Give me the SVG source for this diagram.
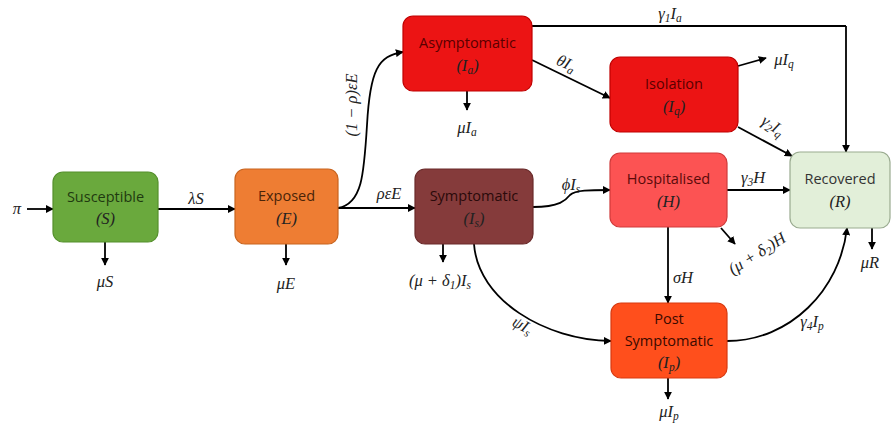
<svg xmlns="http://www.w3.org/2000/svg" width="891" height="426" viewBox="0 0 891 426">
<defs>
<marker id="ah" viewBox="0 0 10 10" refX="9" refY="5" markerWidth="8" markerHeight="8" markerUnits="userSpaceOnUse" orient="auto"><path d="M0,0 L10,5 L0,10 z" fill="#000"/></marker>
<style>
.box{stroke-width:1.2}
.nt{font-family:"Open Sans","Liberation Sans",sans-serif;font-size:14.5px;text-anchor:middle}
.mt{font-family:"Liberation Serif","DejaVu Serif",serif;font-style:italic;font-size:16.5px;text-anchor:middle;fill:#222}
.s{font-size:11.5px}
.ln{fill:none;stroke:#000;stroke-width:1.8;marker-end:url(#ah)}
.lx{fill:none;stroke:#000;stroke-width:1.8}
</style>
</defs>
<rect width="891" height="426" fill="#fff"/>
<g id="connectors">
<path class="ln" d="M27,209 L53,209"/>
<path class="ln" d="M158,209 L235,209"/>
<path class="ln" d="M105,242 L105,265"/>
<path class="ln" d="M286,244 L286,265"/>
<path class="ln" d="M338,208 L415,208"/>
<path class="ln" d="M338,208 C362,204 364,175 367,125 C370,70 378,56 403,52"/>
<path class="ln" d="M467,91 L467,110"/>
<path class="ln" d="M532,60 L610,98"/>
<path class="lx" d="M532,26 L846,26"/>
<path class="ln" d="M846,26 L846,152"/>
<path class="ln" d="M738,66 L766,58"/>
<path class="ln" d="M738,127 L792,156"/>
<path class="ln" d="M727,190 L790,190"/>
<path class="ln" d="M721,228 L735,244"/>
<path class="ln" d="M668,227 L668,303"/>
<path class="ln" d="M872,228 L872,249"/>
<path class="ln" d="M533,207 C560,207 566,200 570,195 C575,190 590,190 610,190"/>
<path class="ln" d="M443,244 L443,262"/>
<path class="ln" d="M474,244 C478,300 545,340 611,341"/>
<path class="ln" d="M727,341 C790,341 840,290 847,228"/>
<path class="ln" d="M668,378 L668,399"/>
</g>
<g id="labels">
<text class="mt" x="17" y="214">π</text>
<text class="mt" x="196" y="204">λS</text>
<text class="mt" x="105" y="287">μS</text>
<text class="mt" x="286" y="289">μE</text>
<text class="mt" x="389" y="199">ρεE</text>
<text class="mt" transform="translate(357,105) rotate(-90)">(1 − ρ)εE</text>
<text class="mt" x="467" y="133">μI<tspan class="s" dy="3">a</tspan></text>
<text class="mt" transform="translate(564,68) rotate(25)">θI<tspan class="s" dy="3">a</tspan></text>
<text class="mt" x="670" y="19">γ<tspan class="s" dy="3">1</tspan><tspan dy="-3">I</tspan><tspan class="s" dy="3">a</tspan></text>
<text class="mt" x="784" y="65">μI<tspan class="s" dy="3">q</tspan></text>
<text class="mt" transform="translate(770,130) rotate(33)">γ<tspan class="s" dy="3">2</tspan><tspan dy="-3">I</tspan><tspan class="s" dy="3">q</tspan></text>
<text class="mt" x="753" y="183">γ<tspan class="s" dy="3">3</tspan><tspan dy="-3">H</tspan></text>
<text class="mt" transform="translate(760,258) rotate(-32)">(μ + δ<tspan class="s" dy="3">2</tspan><tspan dy="-3">)H</tspan></text>
<text class="mt" x="683" y="283">σH</text>
<text class="mt" x="870" y="268">μR</text>
<text class="mt" x="571" y="190">ϕI<tspan class="s" dy="3">s</tspan></text>
<text class="mt" x="440" y="286">(μ + δ<tspan class="s" dy="3">1</tspan><tspan dy="-3">)I</tspan><tspan class="s" dy="3">s</tspan></text>
<text class="mt" transform="translate(520,330) rotate(28)">ψI<tspan class="s" dy="3">s</tspan></text>
<text class="mt" x="812" y="327">γ<tspan class="s" dy="3">4</tspan><tspan dy="-3">I</tspan><tspan class="s" dy="3">p</tspan></text>
<text class="mt" x="669" y="417">μI<tspan class="s" dy="3">p</tspan></text>
</g>
<g id="susceptible">
<rect class="box" x="53" y="172" width="105" height="70" rx="10" fill="#6aa93d" stroke="#55902c"/>
<text class="nt" x="105.5" y="202" fill="#1f3a10">Susceptible</text>
<text class="mt" x="105.5" y="224" fill="#1f3a10">(S)</text>
</g>
<g id="exposed">
<rect class="box" x="235" y="169" width="103" height="75" rx="10" fill="#ee7d33" stroke="#c8641f"/>
<text class="nt" x="286.5" y="201" fill="#4a2408">Exposed</text>
<text class="mt" x="286.5" y="224" fill="#4a2408">(E)</text>
</g>
<g id="asymptomatic">
<rect class="box" x="403" y="16" width="129" height="75" rx="10" fill="#ec1414" stroke="#c00000"/>
<text class="nt" x="467.5" y="48" fill="#5a0000">Asymptomatic</text>
<text class="mt" x="467.5" y="71" fill="#5a0000">(I<tspan class="s" dy="3">a</tspan><tspan dy="-3">)</tspan></text>
</g>
<g id="isolation">
<rect class="box" x="610" y="57" width="128" height="75" rx="10" fill="#ec1414" stroke="#c00000"/>
<text class="nt" x="674" y="89" fill="#5a0000">Isolation</text>
<text class="mt" x="674" y="112" fill="#5a0000">(I<tspan class="s" dy="3">q</tspan><tspan dy="-3">)</tspan></text>
</g>
<g id="symptomatic">
<rect class="box" x="415" y="169" width="118" height="75" rx="10" fill="#853b3b" stroke="#6a2a2a"/>
<text class="nt" x="474" y="201" fill="#2a0a0a">Symptomatic</text>
<text class="mt" x="474" y="224" fill="#2a0a0a">(I<tspan class="s" dy="3">s</tspan><tspan dy="-3">)</tspan></text>
</g>
<g id="hospitalised">
<rect class="box" x="610" y="153" width="117" height="74" rx="10" fill="#fc5353" stroke="#d03a3a"/>
<text class="nt" x="668.5" y="184" fill="#5a0a0a">Hospitalised</text>
<text class="mt" x="668.5" y="207" fill="#5a0a0a">(H)</text>
</g>
<g id="recovered">
<rect class="box" x="790" y="152" width="100" height="76" rx="10" fill="#e2efd9" stroke="#9aab90"/>
<text class="nt" x="840" y="184" fill="#333">Recovered</text>
<text class="mt" x="840" y="207" fill="#333">(R)</text>
</g>
<g id="post-symptomatic">
<rect class="box" x="611" y="303" width="116" height="75" rx="10" fill="#ff4f1c" stroke="#d83a10"/>
<text class="nt" x="669" y="324" fill="#3a0a00">Post</text>
<text class="nt" x="669" y="346" fill="#3a0a00">Symptomatic</text>
<text class="mt" x="669" y="368" fill="#3a0a00">(I<tspan class="s" dy="3">p</tspan><tspan dy="-3">)</tspan></text>
</g>
</svg>
